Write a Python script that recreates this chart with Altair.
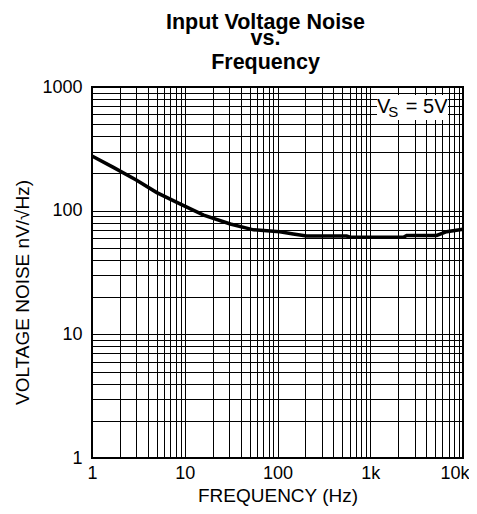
import altair as alt
import pandas as pd

# ---- data ----
freq = [1, 1.7, 3, 5, 9, 16, 31, 55, 106, 148, 206, 557, 605, 2275, 2472, 5200, 6670, 10000]
noise = [277, 224, 177, 140, 113, 92, 78, 70, 67.6, 64.8, 62.4, 62.4, 61, 61, 63, 63, 67.6, 70.8]

x_grid = [m * d for d in [1, 10, 100, 1000] for m in range(1, 10)] + [10000]
y_grid = [m * d for d in [1, 10, 100] for m in range(1, 10)] + [1000]

# annotation "V_S = 5V" (data coordinates)
box_x = [1183, 6890]
box_y = [541, 861]
ann_text = ["V", "S", "= 5V"]
ann_x = [1183, 1560, 2420]
ann_y = [616, 572, 616]
ann_size = [20, 15, 20]

FONT = "Liberation Sans"

df = pd.DataFrame({"f": freq, "v": noise})
box = pd.DataFrame({"x": [box_x[0]], "x2": [box_x[1]], "y": [box_y[0]], "y2": [box_y[1]]})
ann = pd.DataFrame({"t": ann_text, "x": ann_x, "y": ann_y, "s": ann_size})

xscale = alt.Scale(type="log", domain=[1, 10000], nice=False)
yscale = alt.Scale(type="log", domain=[1, 1000], nice=False)

xaxis = alt.Axis(
    values=x_grid,
    labelExpr="indexof([1,10,100,1000,10000], datum.value) >= 0 ? (datum.value >= 1000 ? (datum.value/1000) + 'k' : '' + datum.value) : ''",
    grid=True, gridColor="black", gridOpacity=1, gridWidth=1,
    ticks=False, tickSize=0, domain=False,
    labelFont=FONT, labelFontSize=18, labelColor="black", labelPadding=6,
    labelFlush=False, labelOverlap=False,
    labelAlign=alt.condition("datum.value == 10000", alt.value("right"), alt.value("center")),
    labelOffset=alt.condition("datum.value == 10000", alt.value(6), alt.value(0)),
    title="FREQUENCY (Hz)", titleFont=FONT, titleFontSize=19, titleFontWeight="normal",
    titleColor="black", titleY=43, titleBaseline="alphabetic",
)
yaxis = alt.Axis(
    values=y_grid,
    labelExpr="indexof([1,10,100,1000], datum.value) >= 0 ? '' + datum.value : ''",
    grid=True, gridColor="black", gridOpacity=1, gridWidth=1,
    ticks=False, tickSize=0, domain=False,
    labelFont=FONT, labelFontSize=18, labelColor="black", labelPadding=10,
    labelOverlap=False,
    title="VOLTAGE NOISE nV/√Hz)", titleFont=FONT, titleFontSize=19, titleFontWeight="normal",
    titleColor="black", titleX=-64, titleY=205, titleBaseline="alphabetic",
)

line = alt.Chart(df).mark_line(color="black", strokeWidth=3.5).encode(
    x=alt.X("f:Q", scale=xscale, axis=xaxis),
    y=alt.Y("v:Q", scale=yscale, axis=yaxis),
)

rect = alt.Chart(box).mark_rect(color="white", opacity=1).encode(
    x=alt.X("x:Q", scale=xscale), x2="x2:Q",
    y=alt.Y("y:Q", scale=yscale), y2="y2:Q",
)

text = alt.Chart(ann).mark_text(align="left", baseline="alphabetic", font=FONT, color="black").encode(
    x=alt.X("x:Q", scale=xscale),
    y=alt.Y("y:Q", scale=yscale),
    text="t:N",
    size=alt.Size("s:Q", scale=None, legend=None),
)

chart = alt.layer(line, rect, text).properties(
    width=371, height=371,
    autosize=alt.AutoSizeParams(type="none"),
    padding={"left": 84, "top": 79, "right": 6, "bottom": 48},
    title=alt.TitleParams(
        text=["Input Voltage Noise", "vs."],
        subtitle="Frequency",
        font=FONT, fontSize=21.5, fontWeight="bold", color="black", lineHeight=16,
        subtitleFont=FONT, subtitleFontSize=21.5, subtitleFontWeight="bold", subtitleColor="black",
        subtitlePadding=2,
        anchor="middle", frame="group", dx=-12, offset=5,
    ),
).configure_view(stroke="black", strokeWidth=2)

chart.save("out.html", embed_options={"renderer": "svg", "actions": False})
